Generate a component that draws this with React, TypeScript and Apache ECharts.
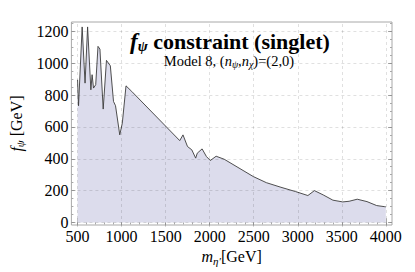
import React, { useEffect, useRef } from "react";
import * as echarts from "echarts";

const massValues = [500, 511, 552, 585, 614, 651, 665, 681, 706, 732, 754, 791, 828, 872, 908, 931, 979, 1008, 1050, 1115, 1660, 1697, 1748, 1797, 1841, 1859, 1914, 1963, 2007, 2073, 2165, 2496, 2643, 2809, 2975, 3115, 3189, 3289, 3399, 3510, 3583, 3675, 3786, 3896, 3988, 4000];
const fPsiValues = [896, 733, 1228, 875, 1228, 833, 928, 844, 865, 1106, 1089, 712, 1018, 984, 760, 733, 550, 624, 858, 823, 514, 550, 477, 456, 404, 435, 462, 414, 389, 416, 397, 288, 250, 221, 194, 169, 200, 173, 140, 129, 133, 146, 131, 106, 99, 98];

const xMajorTicks = [500, 1000, 1500, 2000, 2500, 3000, 3500, 4000];
const yMajorTicks = [0, 200, 400, 600, 800, 1000, 1200];
const xMinorStep = 100;
const yMinorStep = 50;
const X_MIN = 430;
const X_MAX = 4070;
const Y_MIN = -16;
const Y_MAX = 1259;

function minorTicks(min: number, max: number, step: number, majors: number[]) {
  const out: number[] = [];
  for (let v = Math.ceil(min / step) * step; v <= max; v += step) {
    if (!majors.includes(v)) out.push(v);
  }
  return out;
}

const SERIF = "Liberation Serif";
const FRAME = "#a8a8a8";

export default function App() {
  const ref = useRef<HTMLDivElement>(null);
  useEffect(() => {
    if (!ref.current) return;
    const chart = echarts.init(ref.current, undefined, { renderer: "svg" });
    const xMinor = minorTicks(X_MIN, X_MAX, xMinorStep, xMajorTicks);
    const yMinor = minorTicks(Y_MIN, Y_MAX, yMinorStep, yMajorTicks);

    const labelStyle = (vals: number[]) => ({
      show: true,
      customValues: vals,
      fontFamily: SERIF,
      fontSize: 16,
      fontWeight: "normal",
      color: "#000",
      margin: 3,
      formatter: (v: number) => String(v),
    });

    const mkX = (pos: string, ticks: number[], len: number, labels: boolean, extra: any = {}) => ({
      type: "value",
      position: pos,
      min: X_MIN,
      max: X_MAX,
      axisLine: { show: false },
      splitLine: { show: false },
      axisTick: { show: true, inside: true, length: len, customValues: ticks, lineStyle: { color: FRAME, width: 1 } },
      axisLabel: labels ? labelStyle(xMajorTicks) : { show: false },
      ...extra,
    });
    const mkY = (pos: string, ticks: number[], len: number, labels: boolean, extra: any = {}) => ({
      type: "value",
      position: pos,
      min: Y_MIN,
      max: Y_MAX,
      axisLine: { show: false },
      splitLine: { show: false },
      axisTick: { show: true, inside: true, length: len, customValues: ticks, lineStyle: { color: FRAME, width: 1 } },
      axisLabel: labels ? labelStyle(yMajorTicks) : { show: false },
      ...extra,
    });

    const nameRich = {
      i: { fontFamily: SERIF, fontSize: 16, fontStyle: "italic", fontWeight: "normal", color: "#000" },
      s: { fontFamily: SERIF, fontSize: 11, fontStyle: "italic", fontWeight: "normal", color: "#000", padding: [8, 0, 0, 0] },
      n: { fontFamily: SERIF, fontSize: 16, fontWeight: "normal", color: "#000" },
    };

    const option: any = {
      animation: false,
      textStyle: { fontFamily: SERIF },
      title: [
        {
          text: "{f|f}{s|ψ}{b| constraint (singlet)}",
          left: 225,
          top: 24,
          textAlign: "center",
          textStyle: {
            fontFamily: SERIF,
            rich: {
              f: { fontFamily: SERIF, fontSize: 23, fontWeight: "bold", fontStyle: "italic", color: "#000" },
              s: { fontFamily: SERIF, fontSize: 15, fontWeight: "bold", fontStyle: "italic", color: "#000", padding: [9, 0, 0, 0] },
              b: { fontFamily: SERIF, fontSize: 22, fontWeight: "bold", fontStyle: "normal", color: "#000" },
            },
          },
        },
        {
          text: "{n|Model 8, (}{i|n}{s|ψ}{n|,}{i|n}{s|χ}{n|)=(2,0)}",
          left: 224,
          top: 47,
          textAlign: "center",
          textStyle: {
            fontFamily: SERIF,
            fontWeight: "normal",
            rich: {
              n: { fontFamily: SERIF, fontSize: 14.5, fontWeight: "normal", fontStyle: "normal", color: "#000" },
              i: { fontFamily: SERIF, fontSize: 14.5, fontWeight: "normal", fontStyle: "italic", color: "#000" },
              s: { fontFamily: SERIF, fontSize: 10, fontWeight: "normal", fontStyle: "italic", color: "#000", padding: [7, 0, 0, 0] },
            },
          },
        },
      ],
      grid: {
        left: 63,
        right: 23,
        top: 22,
        bottom: 47,
        show: true,
        borderColor: FRAME,
        borderWidth: 1,
        backgroundColor: "transparent",
      },
      xAxis: [
        mkX("bottom", xMajorTicks, 4, true, {
          name: "{i|m}{s|η′}{n|[GeV]}",
          nameLocation: "middle",
          nameGap: 22,
          nameTextStyle: { fontFamily: SERIF, rich: nameRich },
        }),
        mkX("bottom", xMinor, 2, false),
        mkX("top", xMajorTicks, 4, false),
        mkX("top", xMinor, 2, false),
      ],
      yAxis: [
        mkY("left", yMajorTicks, 4, true, {
          name: "{i|f}{s|ψ}{n| [GeV]}",
          nameLocation: "middle",
          nameGap: 45,
          nameTextStyle: { fontFamily: SERIF, rich: nameRich },
        }),
        mkY("left", yMinor, 2, false),
        mkY("right", yMajorTicks, 4, false),
        mkY("right", yMinor, 2, false),
      ],
      series: [
        {
          type: "line",
          xAxisIndex: 0,
          yAxisIndex: 0,
          data: massValues.map((m, i) => [m, fPsiValues[i]]),
          symbol: "none",
          lineStyle: { color: "#3c3c3c", width: 0.9 },
          areaStyle: { color: "#dcdcec", opacity: 1 },
          markLine: {
            silent: true,
            symbol: "none",
            label: { show: false },
            lineStyle: { color: "rgba(0,0,0,0.12)", type: [3, 3], width: 1 },
            data: [
              ...xMajorTicks.map((v) => ({ xAxis: v })),
              ...yMajorTicks.map((v) => ({ yAxis: v })),
            ],
          },
        },
      ],
    };
    chart.setOption(option);
    return () => chart.dispose();
  }, []);
  return <div ref={ref} style={{ position: "absolute", left: 0, top: 0, width: 415, height: 272 }} />;
}
